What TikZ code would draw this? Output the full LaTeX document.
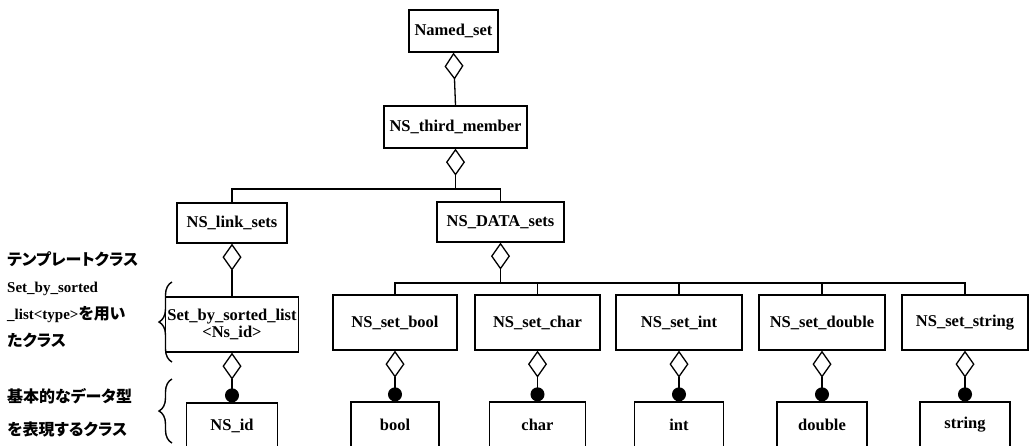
\documentclass[tikz,border=0pt]{standalone}
\usepackage{fontspec}
\setmainfont{Liberation Serif}
\newfontfamily\cjk{Noto Sans CJK JP}[RawFeature={+palt}]
\usetikzlibrary{arrows.meta,decorations.pathreplacing}
\begin{document}
\begin{tikzpicture}[x=1pt,y=-1pt,
  box/.style={draw, line width=1.3pt, inner sep=0pt, align=center,
    font=\fontsize{16.5}{19}\selectfont\bfseries},
  link/.style={line width=1.3pt},
  agg/.style={link, {Diamond[fill=white,length=27pt,width=19pt]}-},
  comp/.style={link, {Diamond[fill=white,length=27pt,width=19pt]}-{Circle[length=14pt]}},
  curly/.style={line width=1.4pt, decorate, decoration={brace, amplitude=13pt}},
  jp/.style={font=\fontsize{16}{27}\selectfont\bfseries\cjk},
  note/.style={anchor=west, inner sep=0pt, align=left,
    font=\fontsize{15}{27}\selectfont\bfseries}]
\useasboundingbox (0,0) rectangle (1035,445);
\clip (0,0) rectangle (1035,445);

% level 1-2
\node[box, minimum width=89pt, minimum height=42pt] (ns) at (453.5,31) {Named\_set};
\node[box, minimum width=143pt, minimum height=42pt] (tm) at (455.5,127) {NS\_third\_member};
% level 3
\node[box, minimum width=110pt, minimum height=40pt] (ls) at (232,223) {NS\_link\_sets};
\node[box, minimum width=127pt, minimum height=40pt] (ds) at (500.5,222) {NS\_DATA\_sets};
% level 4
\node[box, minimum width=133pt, minimum height=55pt] (sb) at (232,324.5) {Set\_by\_sorted\_list\\[-2pt]<Ns\_id>};
\node[box, minimum width=124pt, minimum height=55pt] (sbool) at (395,322.5) {NS\_set\_bool};
\node[box, minimum width=125pt, minimum height=55pt] (schar) at (537.5,322.5) {NS\_set\_char};
\node[box, minimum width=126pt, minimum height=55pt] (sint) at (679,322.5) {NS\_set\_int};
\node[box, minimum width=126pt, minimum height=55pt] (sdouble) at (822,322.5) {NS\_set\_double};
\node[box, minimum width=126pt, minimum height=55pt] (sstring) at (965,322.5) {NS\_set\_string};
% level 5
\node[box, minimum width=91pt, minimum height=46pt] (id) at (232,426) {NS\_id};
\node[box, minimum width=88pt, minimum height=46pt] (tbool) at (395,425) {bool};
\node[box, minimum width=96pt, minimum height=46pt] (tchar) at (537.5,425) {char};
\node[box, minimum width=89pt, minimum height=46pt] (tint) at (679,425) {int};
\node[box, minimum width=90pt, minimum height=46pt] (tdouble) at (822,425) {double};
\node[box, minimum width=90pt, minimum height=46pt] (tstring) at (965,425) {string};

% junctions
\coordinate (j1) at (455.5,189);
\coordinate (j2) at (500.5,283);

% connectors
\draw[agg] (ns.south) -- (tm.north);
\draw[agg] (tm.south) -- (j1);
\draw[link] (ls.north) |- (j1) -| (ds.north);
\draw[agg] (ds.south) -- (j2);
\draw[link] (sbool.north) |- (j2) -| (sstring.north);
\draw[link] (schar.north) -- (schar.north |- j2);
\draw[link] (sint.north) -- (sint.north |- j2);
\draw[link] (sdouble.north) -- (sdouble.north |- j2);
\draw[agg] (ls.south) -- (sb.north);
\draw[comp] (sb.south) -- (id.north);
\draw[comp] (sbool.south) -- (tbool.north);
\draw[comp] (schar.south) -- (tchar.north);
\draw[comp] (sint.south) -- (tint.north);
\draw[comp] (sdouble.south) -- (tdouble.north);
\draw[comp] (sstring.south) -- (tstring.north);

% annotations
\draw[curly] (172,362) -- (172,282);
\draw[curly] (172,443) -- (172,379);
\node[note] (n1) at (7,300) {{\fontsize{16}{27}\selectfont\cjk テンプレートクラス}\\Set\_by\_sorted\\\_list<type>{\fontsize{16}{27}\selectfont\cjk を用い}\\{\fontsize{16}{27}\selectfont\cjk たクラス}};
\node[note, font=\fontsize{16}{33}\selectfont\bfseries\cjk] (n2) at (7,413) {基本的なデータ型\\を表現するクラス};
\end{tikzpicture}
\end{document}
